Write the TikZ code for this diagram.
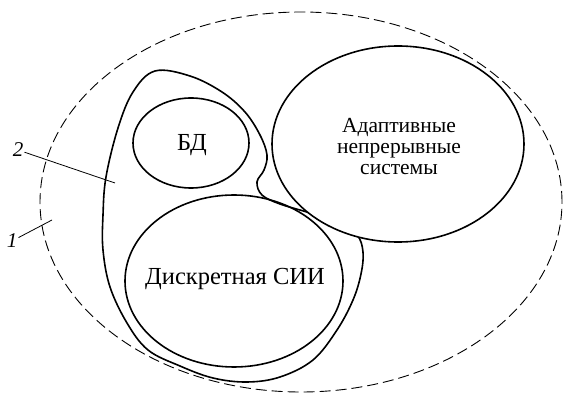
\documentclass[tikz,border=0pt]{standalone}
\usepackage{fontspec}
\setmainfont{Liberation Serif}
\begin{document}
\begin{tikzpicture}[x=1pt,y=-1pt,
  region/.style={line width=1.6pt},
  outerregion/.style={line width=0.9pt, dash pattern=on 11pt off 5pt},
  leader/.style={line width=0.8pt},
  bigcaption/.style={font=\fontsize{24.5}{26}\selectfont, inner sep=0pt},
  caption/.style={font=\fontsize{21.5}{21}\selectfont, align=center, inner sep=0pt},
  numlabel/.style={font=\fontsize{21}{22}\selectfont\itshape, inner sep=1pt}]
\useasboundingbox (0,0) rectangle (563,395);

% outer dashed boundary (1)
\draw[outerregion] (301,202) ellipse [x radius=261pt, y radius=190pt];

% enclosing contour (2)
\draw[region] plot[smooth cycle, tension=0.6] coordinates {
  (155,71) (190,76) (222,92) (245,112) (260,135) (267,155) (264,170)
  (257,182) (262,195) (280,204) (310,213) (338,223) (357,235) (363,252)
  (361,274) (353,300) (337,330) (313,360) (280,377) (247,382) (213,378)
  (180,366) (148,350) (127,323) (110,287) (103,250) (103,215) (106,177)
  (118,128) (133,92)};

% inner regions
\draw[region] (191,143) ellipse [x radius=58pt, y radius=45pt];
\draw[region] (234,281) ellipse [x radius=109pt, y radius=86pt];
\draw[region, fill=white] (398,144) ellipse [x radius=126pt, y radius=98pt];

% texts
\node[bigcaption, anchor=base] (bd) at (192,151) {БД};
\node[bigcaption, anchor=base] (disc) at (235,285) {Дискретная СИИ};
\node[caption] (adapt) at (399,147) {Адаптивные\\непрерывные\\системы};

% numbered leaders
\node[numlabel] (n2) at (18,150) {2};
\coordinate (e2) at (115,183);
\draw[leader] (n2) -- (e2);
\node[numlabel] (n1) at (12,241) {1};
\coordinate (e1) at (52,220);
\draw[leader] (n1) -- (e1);
\end{tikzpicture}
\end{document}
